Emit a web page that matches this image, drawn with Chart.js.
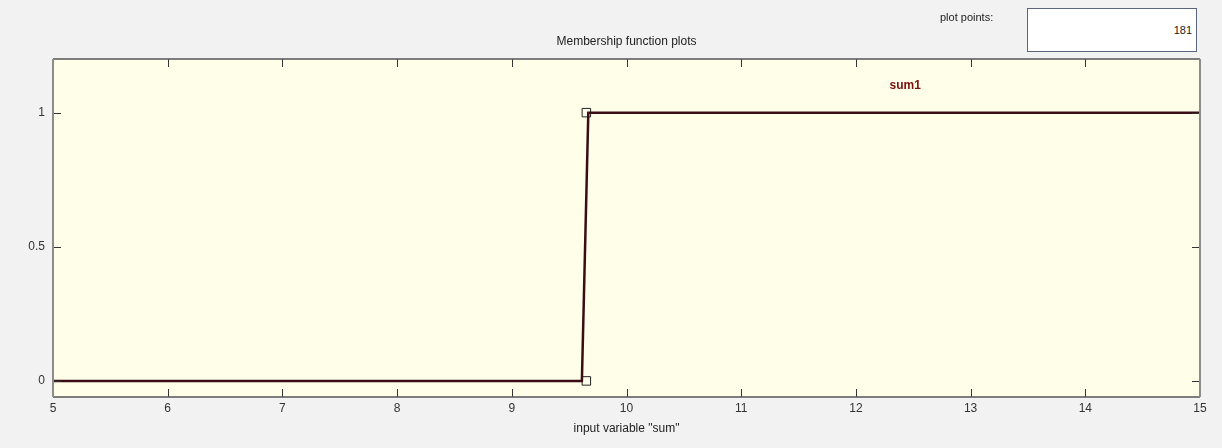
<!DOCTYPE html>
<html>
<head>
<meta charset="utf-8">
<script src="https://cdn.jsdelivr.net/npm/chart.js@4.4.0/dist/chart.umd.min.js"></script>
<style>
	html, body { margin:0; padding:0; background:#f2f2f3; }
	#wrap { position:relative; width:1222px; height:448px; font-family:"Liberation Sans", Arial, sans-serif; }
	#pp-label { position:absolute; left:940px; top:11px; font-size:11px; color:#222; }
	#pp-box { position:absolute; left:1027px; top:8px; width:170px; height:44px; background:#fff; border:1px solid #5a6680; box-sizing:border-box; }
	#pp-box span { position:absolute; right:4px; top:15px; font-size:11px; color:#222; }
</style>
</head>
<body>
<div id="wrap">
	<canvas id="chart" width="1222" height="448"></canvas>
	<div id="pp-label">plot points:</div>
	<div id="pp-box"><span>181</span></div>
</div>
<script>
// membership function "sum1" sampled on [5, 15]
const mfX = [5, 9.611, 9.667, 15];
const mfY = [0, 0, 1, 1];
// parameter handles (squares)
const handleX = [9.65, 9.65];
const handleY = [0, 1];
const xTicks = [5, 6, 7, 8, 9, 10, 11, 12, 13, 14, 15];
const yTicks = [0, 0.5, 1];
const mfLabel = { text: 'sum1', x: 12.43, y: 1.1 };
const plotTitle = 'Membership function plots';

const FONT = '"Liberation Sans", Arial, sans-serif';

const framePlugin = {
	id: 'frame',
	beforeDraw(chart){
		const { ctx, chartArea:a } = chart;
		ctx.save();
		ctx.fillStyle = '#fffee9';
		ctx.fillRect(a.left, a.top, a.right - a.left, a.bottom - a.top);
		ctx.restore();
	},
	afterDraw(chart){
		const { ctx, chartArea:a, scales } = chart;
		const tl = 8;
		ctx.save();
		ctx.lineWidth = 1;
		ctx.strokeStyle = '#333';
		ctx.beginPath();
		xTicks.forEach(v=>{
			const px = Math.round(scales.x.getPixelForValue(v)) + 0.5;
			ctx.moveTo(px, a.top); ctx.lineTo(px, a.top + tl);
			ctx.moveTo(px, a.bottom); ctx.lineTo(px, a.bottom - tl);
		});
		yTicks.forEach(v=>{
			const py = Math.round(scales.y.getPixelForValue(v)) + 0.5;
			ctx.moveTo(a.left, py); ctx.lineTo(a.left + tl, py);
			ctx.moveTo(a.right, py); ctx.lineTo(a.right - tl, py);
		});
		ctx.stroke();
		// frame
		ctx.lineWidth = 1.5;
		ctx.strokeStyle = '#555';
		ctx.beginPath();
		ctx.moveTo(a.left, a.top); ctx.lineTo(a.right, a.top);
		ctx.moveTo(a.left, a.bottom); ctx.lineTo(a.right, a.bottom);
		ctx.stroke();
		ctx.lineWidth = 2;
		ctx.strokeStyle = '#8c8c8c';
		ctx.beginPath();
		ctx.moveTo(a.left, a.top); ctx.lineTo(a.left, a.bottom);
		ctx.moveTo(a.right, a.top); ctx.lineTo(a.right, a.bottom);
		ctx.stroke();
		// MF name
		ctx.textAlign = 'center';
		ctx.textBaseline = 'middle';
		ctx.fillStyle = '#7a1010';
		ctx.font = 'bold 12px ' + FONT;
		ctx.fillText(mfLabel.text, scales.x.getPixelForValue(mfLabel.x), scales.y.getPixelForValue(mfLabel.y));
		// plot title, centred over the axes
		ctx.fillStyle = '#222';
		ctx.font = '12px ' + FONT;
		ctx.fillText(plotTitle, (a.left + a.right) / 2, 42);
		ctx.restore();
	}
};

new Chart(document.getElementById('chart'), {
	type: 'scatter',
	data: {
		datasets: [
			{
				data: mfX.map((x,i)=>({ x: x, y: mfY[i] })),
				showLine: true,
				borderColor: '#3a0d14',
				borderWidth: 2.5,
				pointRadius: 0,
				tension: 0
			},
			{
				data: handleX.map((x,i)=>({ x: x, y: handleY[i] })),
				showLine: false,
				pointStyle: 'rect',
				pointRadius: 6,
				borderColor: '#222',
				borderWidth: 1,
				backgroundColor: 'rgba(255,255,255,0)'
			}
		]
	},
	plugins: [framePlugin],
	options: {
		responsive: false,
		animation: false,
		layout: { padding: { left: 0, right: 22, top: 59, bottom: 0 } },
		plugins: {
			legend: { display: false },
			tooltip: { enabled: false },
			title: { display: false }
		},
		scales: {
			x: {
				type: 'linear',
				min: 5, max: 15,
				afterBuildTicks: s => { s.ticks = xTicks.map(v=>({ value: v })); },
				afterFit: s => { s.height = 51; },
				grid: { display: false, drawTicks: false },
				border: { display: false },
				ticks: { color: '#333', font: { family: FONT, size: 12 }, padding: 4, maxRotation: 0 },
				title: {
					display: true,
					text: 'input variable "sum"',
					color: '#222',
					font: { family: FONT, size: 12 },
					padding: { top: 12, bottom: 12 }
				}
			},
			y: {
				type: 'linear',
				min: -0.06, max: 1.2,
				afterBuildTicks: s => { s.ticks = yTicks.map(v=>({ value: v })); },
				afterFit: s => { s.width = 53; },
				grid: { display: false, drawTicks: false },
				border: { display: false },
				ticks: { color: '#333', font: { family: FONT, size: 12 }, padding: 8, callback: v => String(v) }
			}
		}
	}
});
</script>
</body>
</html>
